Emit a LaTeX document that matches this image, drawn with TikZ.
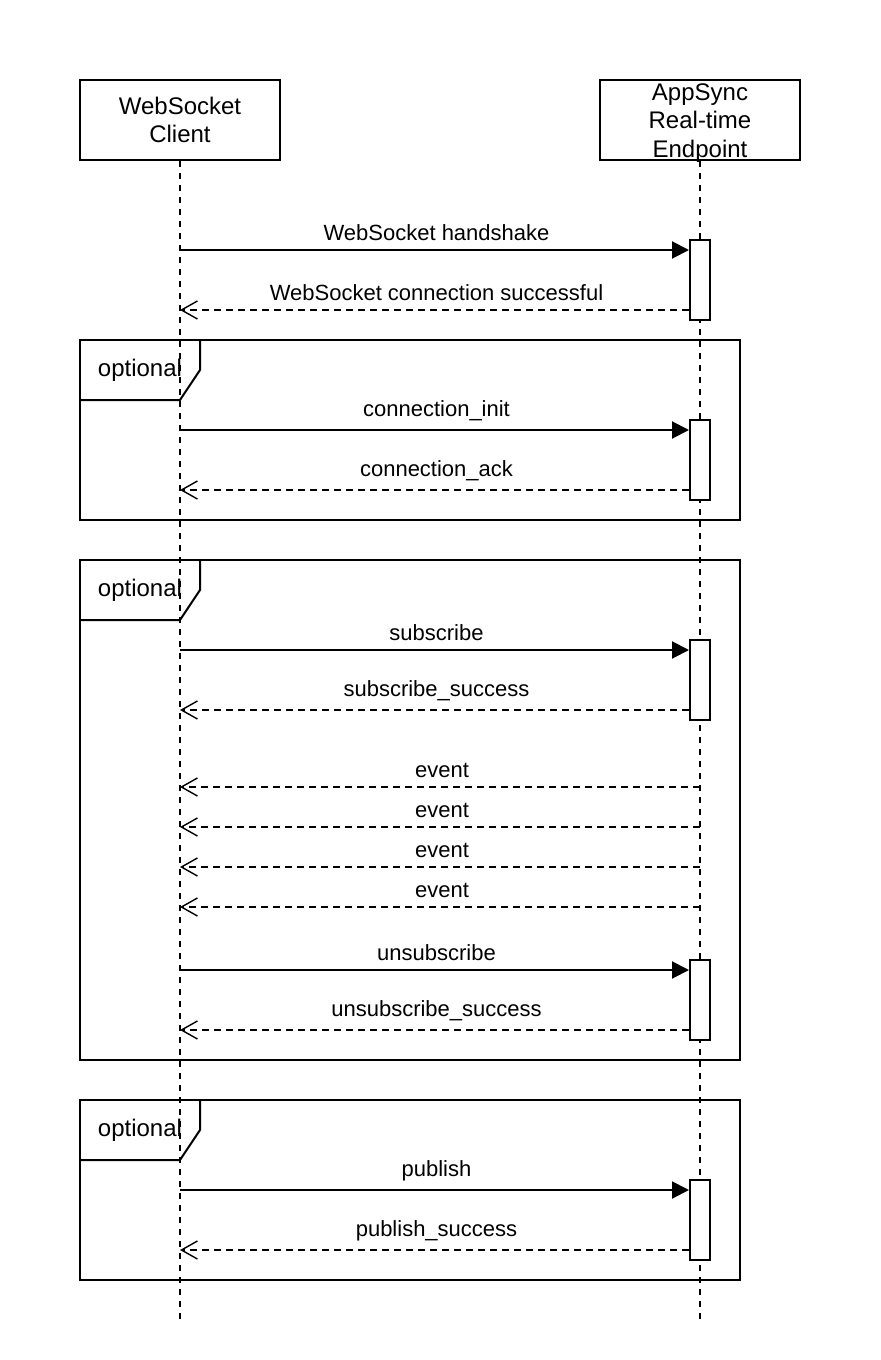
\documentclass[tikz,border=0pt]{standalone}
\usepackage{fontspec}
\setmainfont{Liberation Sans}
\usetikzlibrary{arrows.meta,positioning}

\begin{document}
\begin{tikzpicture}[x=0.5pt,y=-0.5pt,line width=1pt,
  font=\fontsize{11pt}{14pt}\selectfont]
  \tikzstyle{actor}=[draw,minimum width=100pt,minimum height=40pt,
    align=center,inner sep=0pt,font=\fontsize{12pt}{14.4pt}\selectfont]
  \tikzstyle{act}=[draw,fill=white,minimum width=10pt,minimum height=40pt,
    inner sep=0pt]
  \tikzstyle{life}=[dash pattern=on 3pt off 3pt]
  \tikzstyle{sync}=[-{Triangle[length=8.5pt,width=8.5pt]}]
  \tikzstyle{ret}=[dash pattern=on 3.5pt off 2.5pt,
    -{Straight Barb[length=8pt,width=9pt,line width=0.7pt]}]
  \tikzstyle{msg}=[midway,above,inner sep=4pt,xshift=1pt]
  \tikzstyle{tag}=[font=\fontsize{12pt}{14.4pt}\selectfont]

  \useasboundingbox (0,0) rectangle (880,1360);

  % lifelines
  \node[actor] (Client) at (180,120) {WebSocket\\Client};
  \node[actor] (Endpoint) at (700,120) {};
  \node[actor,draw=none,anchor=center] (EndpointText) at (700,123)
    {AppSync\\Real-time\\Endpoint};
  \coordinate (ClientEnd) at (180,1320);
  \coordinate (EndpointEnd) at (700,1320);
  \draw[life] (Client.south) -- (ClientEnd);
  \draw[life] (Endpoint.south) -- (EndpointEnd);

  % optional frames
  \foreach \t/\b in {340/520,560/1060,1100/1280} {
    \draw (80,\t) rectangle (740,\b);
    \draw (80,\t+60) -- (180,\t+60) -- (200,\t+30) -- (200,\t);
    \node[tag] at (140,\t+30) {optional};
  }

  % activations
  \node[act] (A1) at (700,280) {};
  \node[act] (A2) at (700,460) {};
  \node[act] (A3) at (700,680) {};
  \node[act] (A4) at (700,1000) {};
  \node[act] (A5) at (700,1220) {};

  % message anchors on the client lifeline
  \coordinate (c1) at (180,250);  \coordinate (r1) at (180,310);
  \coordinate (c2) at (180,430);  \coordinate (r2) at (180,490);
  \coordinate (c3) at (180,650);  \coordinate (r3) at (180,710);
  \coordinate (c4) at (180,970);  \coordinate (r4) at (180,1030);
  \coordinate (c5) at (180,1190); \coordinate (r5) at (180,1250);

  \draw[sync] (c1) -- (c1 -| A1.west) node[msg] {WebSocket handshake};
  \draw[ret] (r1 -| A1.west) -- (r1) node[msg] {WebSocket connection successful};
  \draw[sync] (c2) -- (c2 -| A2.west) node[msg] {connection\_init};
  \draw[ret] (r2 -| A2.west) -- (r2) node[msg] {connection\_ack};
  \draw[sync] (c3) -- (c3 -| A3.west) node[msg] {subscribe};
  \draw[ret] (r3 -| A3.west) -- (r3) node[msg] {subscribe\_success};

  % events
  \foreach \y/\n in {787/1,827/2,867/3,907/4} {
    \coordinate (ev\n) at (700,\y);
    \draw[ret] (ev\n) -- (ev\n -| Client) node[msg] {event};
  }

  \draw[sync] (c4) -- (c4 -| A4.west) node[msg] {unsubscribe};
  \draw[ret] (r4 -| A4.west) -- (r4) node[msg] {unsubscribe\_success};
  \draw[sync] (c5) -- (c5 -| A5.west) node[msg] {publish};
  \draw[ret] (r5 -| A5.west) -- (r5) node[msg] {publish\_success};
\end{tikzpicture}
\end{document}
